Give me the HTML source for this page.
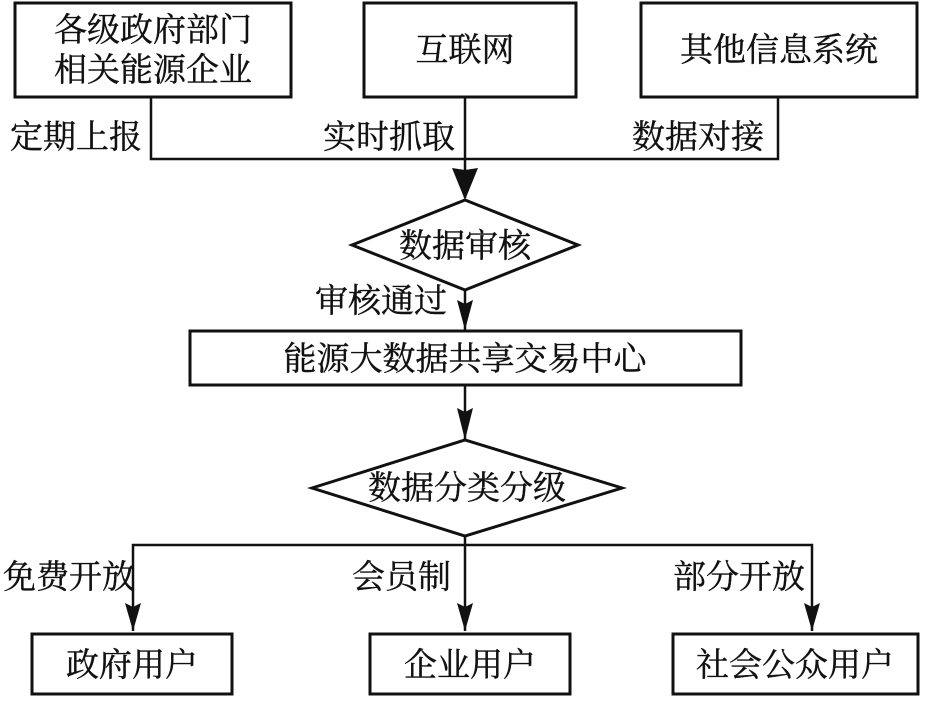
<!DOCTYPE html>
<html><head><meta charset="utf-8"><style>
body{margin:0;background:#fff;}
svg text{font-family:"Liberation Serif","Noto Serif CJK SC","Noto Sans CJK SC",serif;fill:#111;stroke:#111;stroke-width:0.4;}
</style></head><body>
<svg width="945" height="696" viewBox="0 0 945 696" xmlns="http://www.w3.org/2000/svg">
<g fill="none" stroke="#111" stroke-width="3">
<rect x="15" y="3" width="276" height="94"/>
<rect x="364" y="3" width="212" height="94"/>
<rect x="641" y="3" width="276" height="94"/>
<polyline points="151,97 151,159 778,159 778,97" stroke-width="2.5"/>
<line x1="465" y1="97" x2="465" y2="198" stroke-width="2.5"/>
<path d="M465,170 L452,168 L465,200 L478,168 Z" fill="#111" stroke="none"/>
<polygon points="352,245 465,200 578,245 465,290"/>
<line x1="465" y1="290" x2="465" y2="330" stroke-width="2.5"/>
<path d="M465,304 L457,300 L465,330 L473,300 Z" fill="#111" stroke="none"/>
<rect x="190" y="331" width="551" height="54"/>
<line x1="465" y1="385" x2="465" y2="440" stroke-width="2.5"/>
<path d="M465,412 L457,408 L465,440 L473,408 Z" fill="#111" stroke="none"/>
<polygon points="312,488 465,440 622,488 465,536"/>
<polyline points="133,631 133,545 812,545 812,631" stroke-width="2.5"/>
<line x1="465" y1="536" x2="465" y2="631" stroke-width="2.5"/>
<path d="M133,631 L125,603 L133,607 L141,603 Z M465,631 L457,603 L465,607 L473,603 Z M812,631 L804,603 L812,607 L820,603 Z" fill="#111" stroke="none"/>
<rect x="32" y="634" width="200" height="60"/>
<rect x="370" y="634" width="200" height="60"/>
<rect x="673" y="634" width="245" height="60"/>
</g>
<g font-size="33" text-anchor="middle">
<text x="153" y="41">各级政府部门</text>
<text x="153" y="81">相关能源企业</text>
<text x="465" y="61">互联网</text>
<text x="779" y="61">其他信息系统</text>
<text x="465" y="257">数据审核</text>
<text x="465" y="370">能源大数据共享交易中心</text>
<text x="467" y="499">数据分类分级</text>
<text x="132" y="676">政府用户</text>
<text x="470" y="676">企业用户</text>
<text x="795" y="676">社会公众用户</text>
</g>
<g font-size="33">
<text x="10" y="148">定期上报</text>
<text x="323" y="148">实时抓取</text>
<text x="632" y="148">数据对接</text>
<text x="315" y="312">审核通过</text>
<text x="3" y="588">免费开放</text>
<text x="352" y="588">会员制</text>
<text x="673" y="588">部分开放</text>
</g>
</svg>
</body></html>
